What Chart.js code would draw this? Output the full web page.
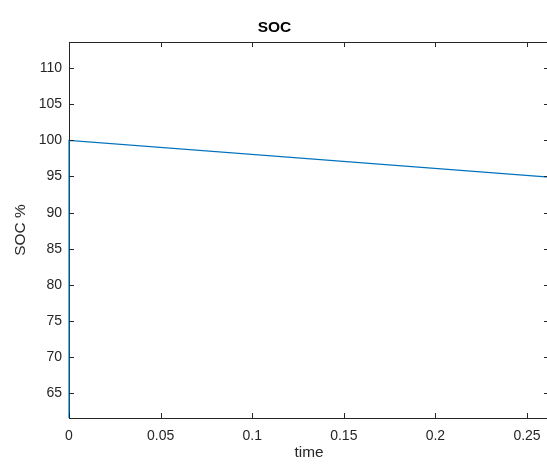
<!DOCTYPE html>
<html>
<head>
<meta charset="utf-8">
<script src="https://cdn.jsdelivr.net/npm/chart.js@4/dist/chart.umd.min.js"></script>
<style>
  html, body { margin: 0; padding: 0; background: #fff; overflow: hidden; }
  #wrap { width: 547px; height: 466px; overflow: hidden; }
  canvas { display: block; }
</style>
</head>
<body>
<div id="wrap"><canvas id="socChart" width="552" height="466"></canvas></div>
<script>
// data
const timeValues = [0, 0, 0.262];
const socValues = [0, 100, 94.9];
const xTickValues = [0, 0.05, 0.1, 0.15, 0.2, 0.25];
const yTickValues = [65, 70, 75, 80, 85, 90, 95, 100, 105, 110];

const axisColor = '#262626';
const fontFamily = '"Liberation Sans", Arial, Helvetica, sans-serif';

// MATLAB-like box with inward tick marks on all four sides
const boxTicks = {
	id: 'boxTicks',
	afterDraw(chart) {
		const { ctx, chartArea: a, scales } = chart;
		const len = 5;
		ctx.save();
		ctx.strokeStyle = axisColor;
		ctx.lineWidth = 1;
		ctx.beginPath();
		// top + right box edges
		ctx.moveTo(Math.round(a.left) + 0.5, Math.round(a.top) + 0.5);
		ctx.lineTo(Math.round(a.right) + 0.5, Math.round(a.top) + 0.5);
		ctx.lineTo(Math.round(a.right) + 0.5, Math.round(a.bottom) + 0.5);
		xTickValues.forEach(v => {
			const px = Math.round(scales.x.getPixelForValue(v)) + 0.5;
			ctx.moveTo(px, a.bottom); ctx.lineTo(px, a.bottom - len);
			ctx.moveTo(px, a.top); ctx.lineTo(px, a.top + len);
		});
		yTickValues.forEach(v => {
			const py = Math.round(scales.y.getPixelForValue(v)) + 0.5;
			ctx.moveTo(a.left, py); ctx.lineTo(a.left + len, py);
			ctx.moveTo(a.right, py); ctx.lineTo(a.right - len, py);
		});
		ctx.stroke();
		ctx.restore();
	}
};

const el = document.getElementById('socChart');
new Chart(el.getContext('2d'), {
	type: 'line',
	data: {
		datasets: [{
			label: 'SOC',
			data: timeValues.map((t, i) => ({ x: t, y: socValues[i] })),
			borderColor: '#0072BD',
			borderWidth: 1.2,
			pointRadius: 0,
			fill: false,
			tension: 0,
			// let the vertical segment at t=0 sit over the left axis line
			clip: { left: 2, top: 0, right: 0, bottom: 0 }
		}]
	},
	options: {
		responsive: false,
		animation: false,
		layout: { padding: { left: 0, right: 3, top: 0, bottom: 0 } },
		plugins: {
			legend: { display: false },
			tooltip: { enabled: false },
			title: {
				display: true,
				text: 'SOC',
				color: '#000',
				font: { family: fontFamily, size: 15.5, weight: 'bold' },
				padding: { top: 18, bottom: 5.4 }
			}
		},
		scales: {
			x: {
				type: 'linear',
				min: 0,
				max: 0.262,
				grid: { display: false, drawTicks: false },
				border: { display: true, color: axisColor, width: 1 },
				afterBuildTicks: s => { s.ticks = xTickValues.map(v => ({ value: v })); },
				afterFit: s => { s.height = 48; },
				ticks: {
					color: axisColor,
					padding: 10,
					maxRotation: 0,
					font: { family: fontFamily, size: 14 },
					callback: v => String(v)
				},
				title: {
					display: true,
					text: 'time',
					color: axisColor,
					font: { family: fontFamily, size: 15.4 },
					padding: { top: 0, bottom: 4 }
				}
			},
			y: {
				type: 'linear',
				min: 61.6,
				max: 113.6,
				grid: { display: false, drawTicks: false },
				border: { display: true, color: axisColor, width: 1 },
				afterBuildTicks: s => { s.ticks = yTickValues.map(v => ({ value: v })); },
				afterFit: s => { s.width = 69; },
				ticks: {
					color: axisColor,
					padding: 7,
					font: { family: fontFamily, size: 14 },
					callback: v => String(v)
				},
				title: {
					display: true,
					text: 'SOC %',
					color: axisColor,
					font: { family: fontFamily, size: 15.4 },
					padding: { top: 12, bottom: 0 }
				}
			}
		}
	},
	plugins: [boxTicks]
});
</script>
</body>
</html>
